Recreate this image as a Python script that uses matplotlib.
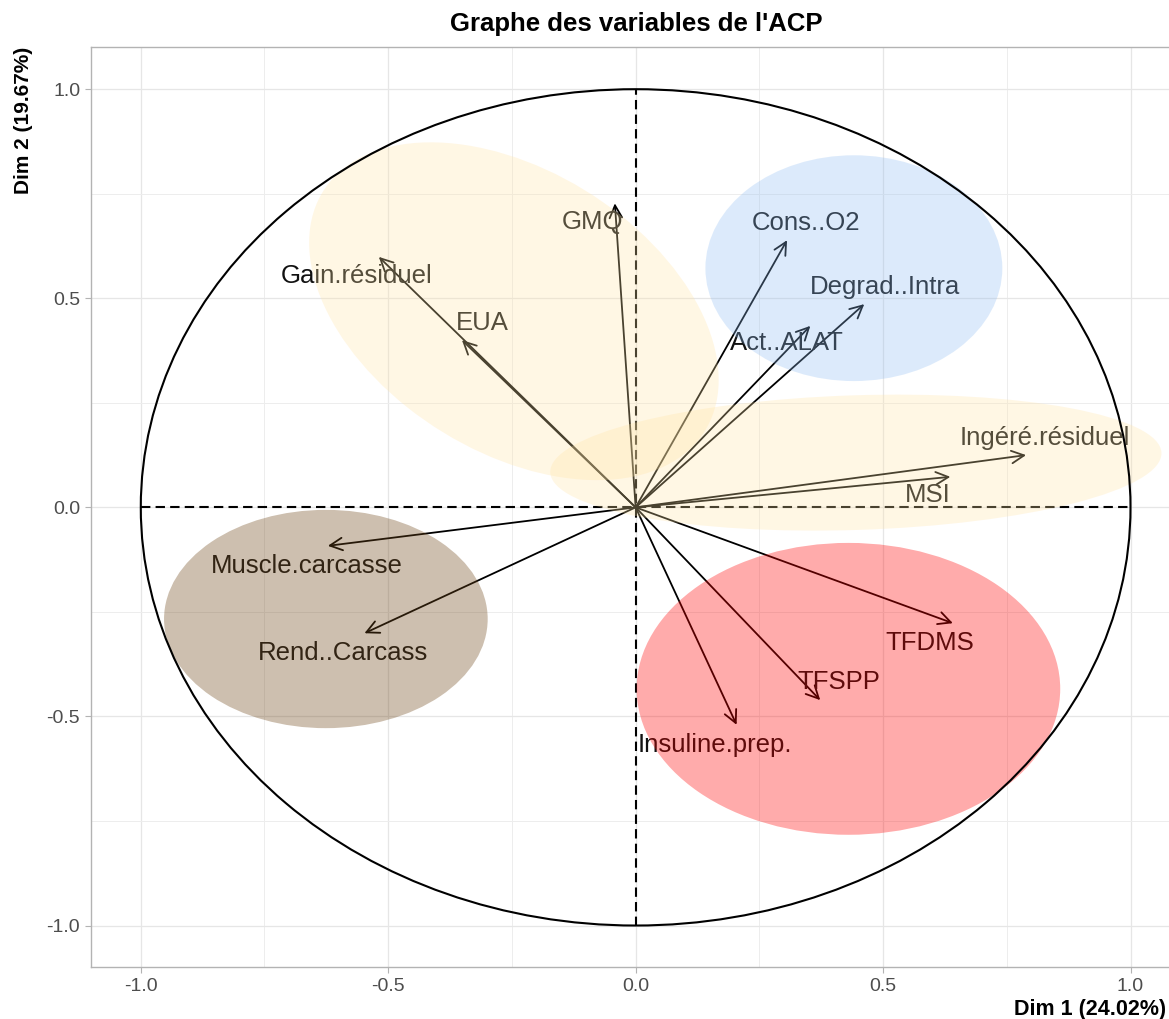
import numpy as np
import matplotlib.pyplot as plt
from matplotlib.patches import Ellipse, Circle
from matplotlib.ticker import MultipleLocator

plt.rcParams['font.family'] = ['Liberation Sans', 'DejaVu Sans']

# coordonnees des variables sur Dim 1 / Dim 2
variables = ['GMQ', 'Gain.résiduel', 'EUA', 'Cons..O2', 'Degrad..Intra', 'Act..ALAT',
             'Ingéré.résiduel', 'MSI', 'Muscle.carcasse', 'Rend..Carcass',
             'TFDMS', 'TFSPP', 'Insuline.prep.']
dim1 = [-0.042, -0.519, -0.351, 0.306, 0.462, 0.353, 0.789, 0.636, -0.622, -0.548, 0.641, 0.373, 0.204]
dim2 = [0.727, 0.599, 0.400, 0.639, 0.486, 0.434, 0.125, 0.073, -0.092, -0.301, -0.277, -0.461, -0.520]

# position des etiquettes
lab_x = [-0.087, -0.563, -0.309, 0.345, 0.503, 0.305, 0.827, 0.590, -0.665, -0.591, 0.595, 0.410, 0.161]
lab_y = [0.683, 0.553, 0.440, 0.679, 0.526, 0.392, 0.165, 0.029, -0.140, -0.348, -0.325, -0.417, -0.568]

# ellipses des groupes : centre, demi-axes, angle
ell_cx = [-0.246, 0.445, 0.441, 0.430, -0.626]
ell_cy = [0.469, 0.107, 0.572, -0.434, -0.267]
ell_a = [0.485, 0.618, 0.300, 0.428, 0.327]
ell_b = [0.315, 0.161, 0.270, 0.349, 0.261]
ell_ang = [-43.3, 2.2, 0.0, 0.0, 0.0]
ell_col = ['#FFE4A5', '#FFE4A5', '#8EBCF2', '#FF0000', '#70481A']
ell_alpha = [0.29, 0.29, 0.30, 0.33, 0.35]

fig = plt.figure(figsize=(11.69, 10.19), dpi=100)
ax = fig.add_axes([0.0781, 0.0507, 0.9313, 0.9028])

ax.set_xlim(-1.1, 1.1)
ax.set_ylim(-1.1, 1.1)
ax.xaxis.set_major_locator(MultipleLocator(0.5))
ax.yaxis.set_major_locator(MultipleLocator(0.5))
ax.xaxis.set_minor_locator(MultipleLocator(0.25))
ax.yaxis.set_minor_locator(MultipleLocator(0.25))
ax.xaxis.set_major_formatter(plt.FuncFormatter(lambda v, p: f'{v:.1f}'))
ax.yaxis.set_major_formatter(plt.FuncFormatter(lambda v, p: f'{v:.1f}'))
ax.grid(which='major', color='#E6E6E6', lw=0.9)
ax.grid(which='minor', color='#EDEDED', lw=0.7)
ax.set_axisbelow(True)
ax.tick_params(which='major', length=4, width=0.8, color='#B3B3B3',
               labelsize=14, labelcolor='#4D4D4D', pad=4)
ax.tick_params(which='minor', length=0)
for s in ax.spines.values():
    s.set_color('#B3B3B3')
    s.set_linewidth(1.0)

# axes en pointilles
ax.plot([-1, 1], [0, 0], color='black', lw=1.5, ls=(0, (4.5, 2.5)), zorder=2)
ax.plot([0, 0], [-1, 1], color='black', lw=1.5, ls=(0, (4.5, 2.5)), zorder=2)

# fleches des variables
for i in range(len(variables)):
    ax.annotate('', xy=(dim1[i], dim2[i]), xytext=(0, 0),
                arrowprops=dict(arrowstyle='->,head_length=0.9,head_width=0.45',
                                color='black', lw=1.3, shrinkA=0, shrinkB=0,
                                mutation_scale=10),
                zorder=3)
    ax.text(lab_x[i], lab_y[i], variables[i], fontsize=18.5, color='#111111',
            ha='center', va='center', zorder=4)

# ellipses par groupe
for i in range(len(ell_cx)):
    e = Ellipse((ell_cx[i], ell_cy[i]), 2 * ell_a[i], 2 * ell_b[i], angle=ell_ang[i],
                facecolor=ell_col[i], edgecolor='none', alpha=ell_alpha[i], zorder=5)
    ax.add_patch(e)

# cercle des correlations
ax.add_patch(Circle((0, 0), 1, fill=False, edgecolor='black', lw=1.5, zorder=6))

fig.text(0.5439, 1 - 24 / 1019, "Graphe des variables de l'ACP", fontsize=18.5,
         fontweight='bold', ha='center', va='center')
fig.text(1166 / 1169, 1 - 1009 / 1019, 'Dim 1 (24.02%)', fontsize=15.5,
         fontweight='bold', ha='right', va='center')
fig.text(24 / 1169, 1 - 47 / 1019, 'Dim 2 (19.67%)', fontsize=15,
         fontweight='bold', ha='center', va='top', rotation=90)

fig.savefig('out.png', dpi=100)
